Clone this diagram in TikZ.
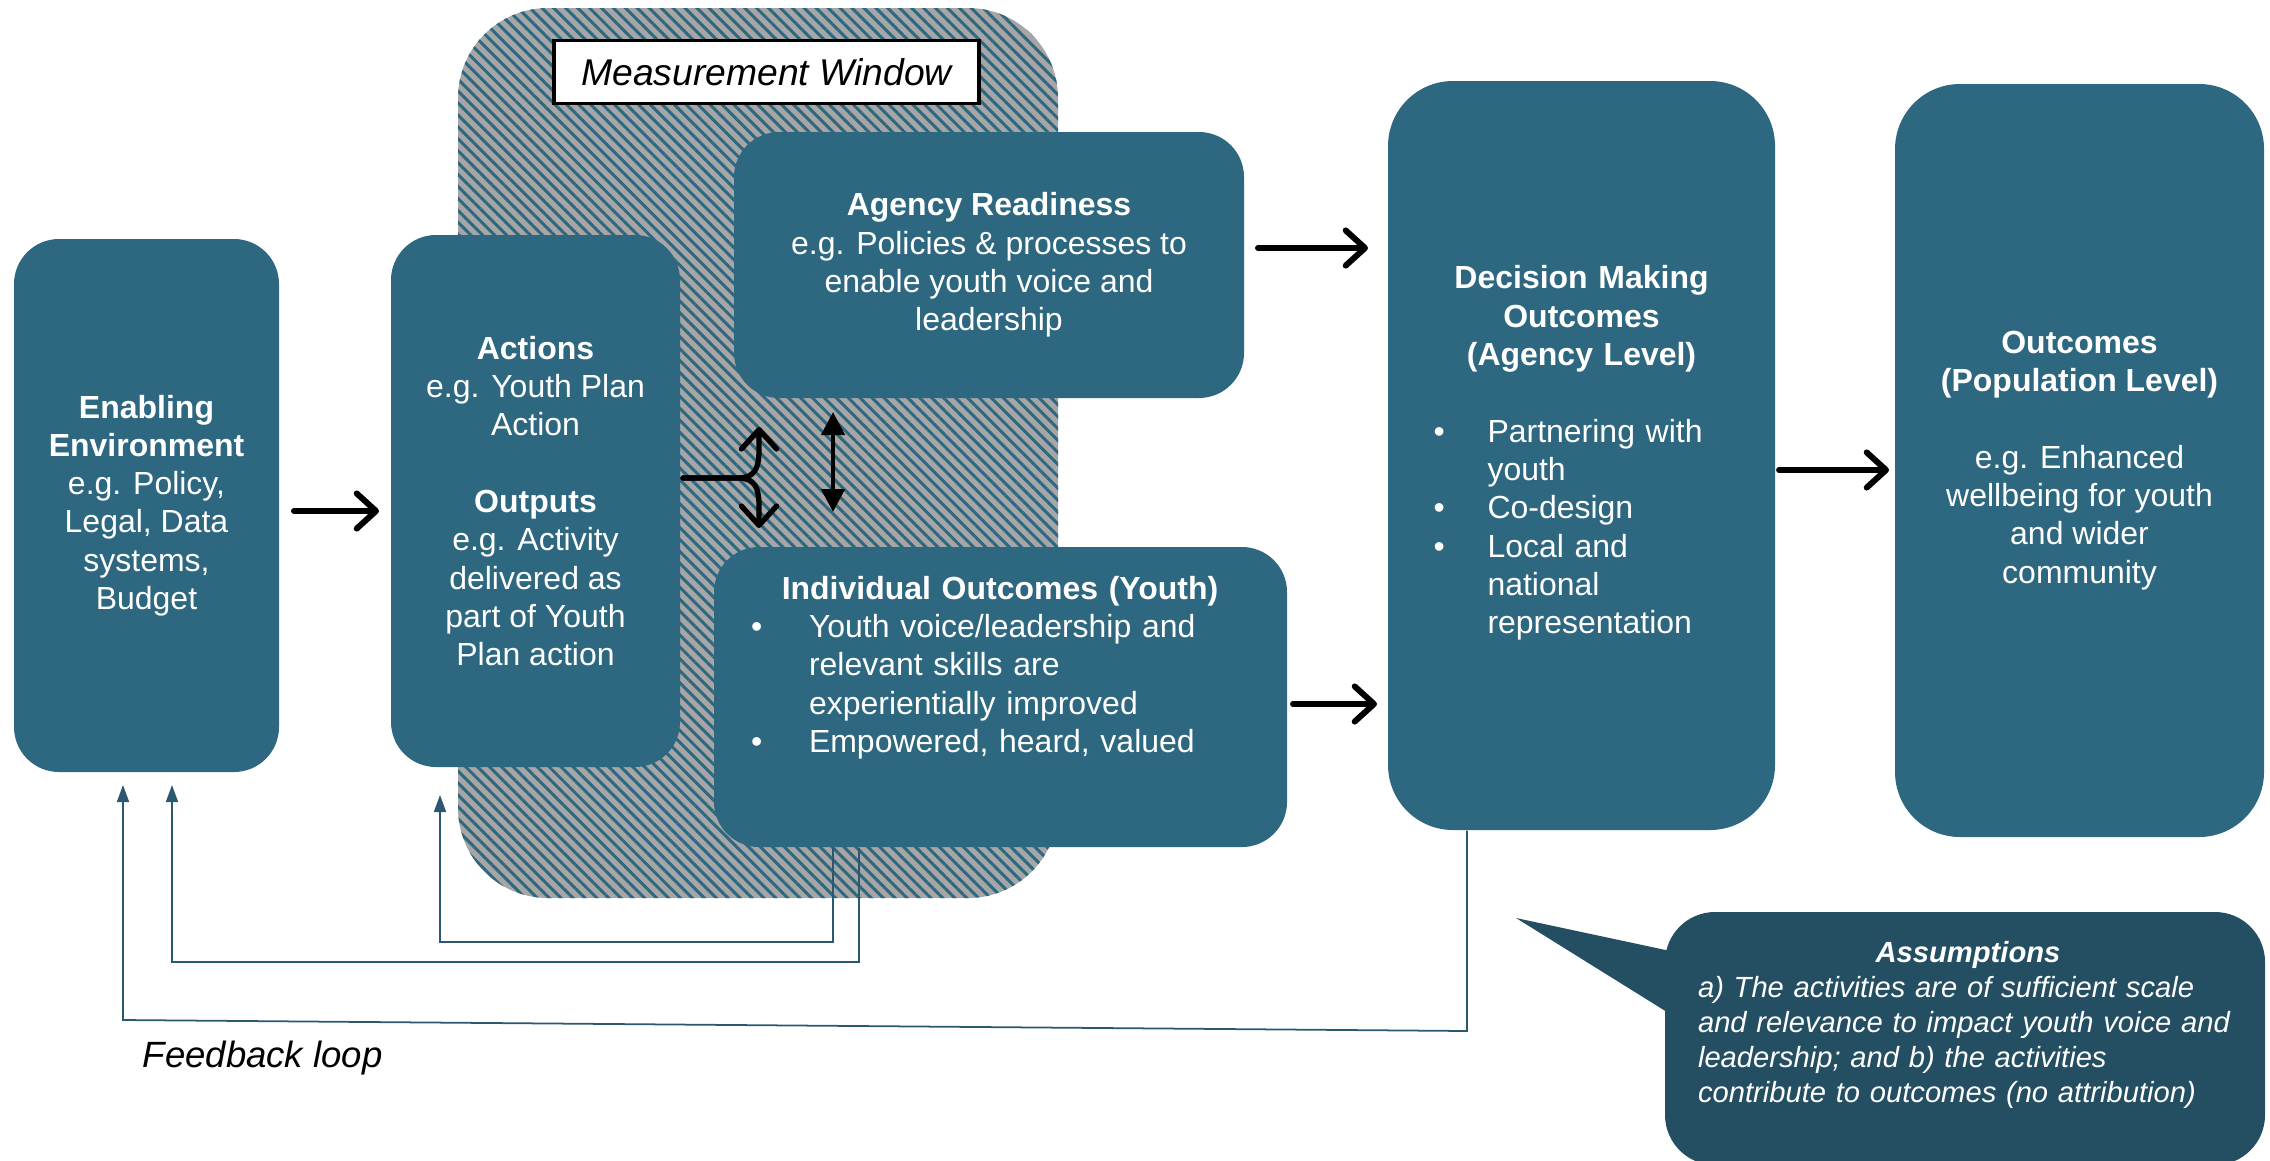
\documentclass[tikz,border=0pt]{standalone}
\usepackage{fontspec}
\setmainfont{Liberation Sans}
\usetikzlibrary{arrows.meta,patterns.meta}
\definecolor{stageteal}{HTML}{2E6880}
\definecolor{calloutteal}{HTML}{244E61}
\definecolor{fbteal}{HTML}{2A5870}
\definecolor{hatchgray}{HTML}{A6A6A6}
\newcommand{\bodysize}{\fontsize{9.1}{10.9}\selectfont}
\newcommand{\notesize}{\fontsize{8.3}{10}\selectfont}
\tikzset{
  stagebox/.style={rectangle, fill=stageteal, text=white, rounded corners=0.45cm, align=center, font=\bodysize, inner sep=0pt},
  hatchbox/.style={rectangle, rounded corners=0.9cm, preaction={fill=hatchgray}, pattern={Lines[angle=-45,distance=2.4pt,line width=0.85pt]}, pattern color=stageteal},
  bigarrow/.style={line width=1.7pt, line cap=round, -{Straight Barb[length=5.5pt,width=10pt,round]}},
  bothways/.style={line width=1.3pt, {Triangle[length=0.23cm,width=0.23cm]}-{Triangle[length=0.23cm,width=0.23cm]}},
  fbline/.style={draw=fbteal, line width=0.5pt, -{Triangle[length=0.17cm,width=0.12cm]}}
}
\newcommand{\ystage}[5] {\node at (#1) (#2) [stagebox, minimum width=#3cm, minimum height=#4cm] {#5};}
\newcommand{\ystagearrow}[2] {\draw [bigarrow] (#1) -- (#2);}
\newcommand{\yfeedback}[4] {\draw [fbline] (#1) -- (#2) -- (#3) -- (#4);}
\begin{document}
\begin{tikzpicture}[y=-1cm]
\useasboundingbox (0,0) rectangle (22.7,11.6);

\node at (7.58,4.53) (mwin) [hatchbox, minimum width=6.0cm, minimum height=8.9cm] {};
\node at (7.665,0.72) (mwlabel) [draw=black, line width=0.9pt, fill=white, minimum width=4.25cm, minimum height=0.63cm, font=\fontsize{10.6}{12}\selectfont\itshape] {Measurement Window};

\ystage {1.465,5.055}{enabling}{2.65}{5.33}{\textbf{Enabling}\\\textbf{Environment}\\e.g. Policy,\\Legal, Data\\systems,\\Budget}
\ystage {5.355,5.01}{actions}{2.89}{5.32}{\textbf{Actions}\\e.g. Youth Plan\\Action\\[10.9pt]\textbf{Outputs}\\e.g. Activity\\delivered as\\part of Youth\\Plan action}
\ystage {9.89,2.65}{agency}{5.10}{2.66}{\textbf{Agency Readiness}\\e.g. Policies \& processes to\\enable youth voice and\\leadership}
\ystage {10.005,6.97}{individual}{5.73}{3.0}{}
\node at (10.0,6.70) (indtext) [text=white, font=\bodysize, text width=4.98cm, align=left, inner sep=0pt] {{\centering\textbf{Individual Outcomes (Youth)}\par}\noindent\begin{tabular}[t]{@{}p{0.58cm}@{}l@{}}\textbullet & Youth voice/leadership and\\ & relevant skills are\\ & experientially improved\\ \textbullet & Empowered, heard, valued\end{tabular}};
\node at (15.815,4.555) (decision) [stagebox, rounded corners=0.65cm, minimum width=3.87cm, minimum height=7.49cm, text width=2.96cm, align=left] {{\centering\textbf{Decision Making}\\\textbf{Outcomes}\\\textbf{(Agency Level)}\par}\vspace{10.9pt}\noindent\begin{tabular}[t]{@{}p{0.54cm}@{}l@{}}\textbullet & Partnering with\\ & youth\\ \textbullet & Co-design\\ \textbullet & Local and\\ & national\\ & representation\end{tabular}};
\node at (20.795,4.605) (population) [stagebox, rounded corners=0.65cm, minimum width=3.69cm, minimum height=7.53cm] {\textbf{Outcomes}\\\textbf{(Population Level)}\\[10.9pt]e.g. Enhanced\\wellbeing for youth\\and wider\\community};

\ystagearrow {2.94,5.11}{3.79,5.11}
\ystagearrow {12.58,2.48}{13.68,2.48}
\ystagearrow {12.93,7.04}{13.77,7.04}
\ystagearrow {17.79,4.70}{18.89,4.70}

\coordinate (split) at (6.83,4.78);
\coordinate (splitup) at (7.59,4.27);
\coordinate (splitdown) at (7.59,5.28);
\draw [bigarrow, line width=1.5pt] (split) -- (7.38,4.78) .. controls (7.55,4.78) and (7.59,4.68) .. (7.59,4.50) -- (splitup);
\draw [bigarrow, line width=1.5pt] (split) -- (7.38,4.78) .. controls (7.55,4.78) and (7.59,4.88) .. (7.59,5.06) -- (splitdown);
\coordinate (linktop) at (8.33,4.12);
\coordinate (linkbot) at (8.33,5.12);
\draw [bothways] (linktop) -- (linkbot);

\coordinate (fb1b) at (14.67,10.31);
\coordinate (fb1c) at (1.23,10.20);
\coordinate (fb1d) at (1.23,7.85);
\coordinate (fb2b) at (8.59,9.62);
\coordinate (fb2c) at (1.72,9.62);
\coordinate (fb2d) at (1.72,7.85);
\coordinate (fb3b) at (8.33,9.42);
\coordinate (fb3c) at (4.40,9.42);
\coordinate (fb3d) at (4.40,7.95);
\yfeedback {fb1b |- decision.south}{fb1b}{fb1c}{fb1d}
\yfeedback {fb2b |- individual.south}{fb2b}{fb2c}{fb2d}
\yfeedback {fb3b |- individual.south}{fb3b}{fb3c}{fb3d}
\node at (1.42,10.58) (fblabel) [anchor=west, inner sep=0pt, font=\fontsize{10.4}{12}\selectfont\itshape] {Feedback loop};

\coordinate (tailtip) at (15.16,9.18);
\fill [calloutteal] (tailtip) -- (16.75,9.52) -- (16.75,10.17) -- cycle;
\node at (19.65,10.385) (assume) [rectangle, fill=calloutteal, rounded corners=0.5cm, minimum width=6.0cm, minimum height=2.53cm] {};
\node at (19.68,10.25) (assumetext) [text=white, font=\notesize\itshape, text width=5.4cm, align=left, inner sep=0pt] {{\centering\textbf{Assumptions}\par}a) The activities are of sufficient scale\\and relevance to impact youth voice and\\leadership; and b) the activities\\contribute to outcomes (no attribution)};
\end{tikzpicture}
\end{document}
